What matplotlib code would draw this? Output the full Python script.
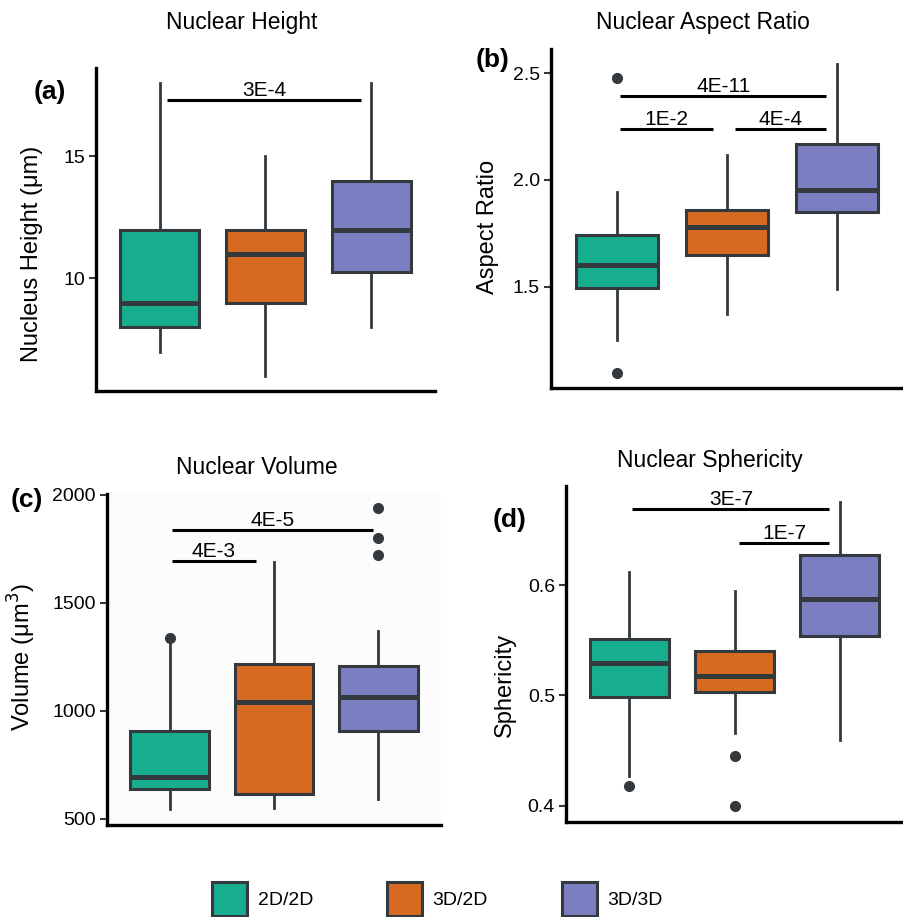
import matplotlib.pyplot as plt
from matplotlib.patches import Patch

plt.rcParams['font.family'] = ['Liberation Sans', 'DejaVu Sans']

groups = ['2D/2D', '3D/2D', '3D/3D']
colors = ['#17ad8f', '#d56a20', '#7b7fc2']
edge = '#33393c'

# box stats per panel: (whislo, q1, med, q3, whishi, fliers)
height_stats = [(7, 8, 9, 12, 18, []),
                (6, 9, 11, 12, 15, []),
                (8, 10.25, 12, 14, 18, [])]
aspect_stats = [(1.252, 1.492, 1.603, 1.74, 1.945, [1.097, 2.478]),
                (1.372, 1.65, 1.782, 1.86, 2.117, []),
                (1.488, 1.849, 1.953, 2.171, 2.542, [])]
volume_stats = [(545, 636, 692, 907, 1320, [1335]),
                (548, 614, 1042, 1216, 1690, []),
                (591, 907, 1062, 1208, 1370, [1722, 1801, 1937])]
spher_stats = [(0.4266, 0.4985, 0.5294, 0.5514, 0.612, [0.418]),
               (0.466, 0.503, 0.5179, 0.5405, 0.5952, [0.3994, 0.4447]),
               (0.4598, 0.5535, 0.5874, 0.6273, 0.6759, [])]

# significance brackets: (x0, x1, y, label)
height_sig = [(1.07, 2.9, 17.3, '3E-4')]
aspect_sig = [(1.03, 2.9, 2.396, '4E-11'), (1.03, 1.87, 2.238, '1E-2'),
              (2.07, 2.9, 2.238, '4E-4')]
volume_sig = [(1.02, 2.95, 1836, '4E-5'), (1.02, 1.83, 1693, '4E-3')]
spher_sig = [(1.03, 2.9, 0.6693, '3E-7'), (2.04, 2.9, 0.6387, '1E-7')]

W, H = 904, 917
fig = plt.figure(figsize=(W / 100, H / 100), dpi=100)


def ax_px(left, top, right, bottom):
    return fig.add_axes([left / W, 1 - bottom / H, (right - left) / W, (bottom - top) / H])


panels = [
    dict(box=(96, 68, 435, 391), stats=height_stats, sig=height_sig, ylim=(5.4, 18.6),
         ticks=[10, 15], fmt='{:g}', title='Nuclear Height', tpos=(242, 22),
         ylabel='Nucleus Height (μm)', ylpos=(32, 254), tag='(a)', tagpos=(50, 92)),
    dict(box=(551, 49, 903, 388), stats=aspect_stats, sig=aspect_sig, ylim=(1.025, 2.614),
         ticks=[1.5, 2.0, 2.5], fmt='{:.1f}', title='Nuclear Aspect Ratio', tpos=(703, 22),
         ylabel='Aspect Ratio', ylpos=(488, 227), tag='(b)', tagpos=(493, 60)),
    dict(box=(107, 494, 441, 825), stats=volume_stats, sig=volume_sig, ylim=(471, 2003),
         ticks=[500, 1000, 1500, 2000], fmt='{:g}', title='Nuclear Volume', tpos=(257, 468),
         ylabel='Volume (μm$^3$)', ylpos=(22, 657), tag='(c)', tagpos=(27, 500)),
    dict(box=(566, 486, 903, 822), stats=spher_stats, sig=spher_sig, ylim=(0.3852, 0.690),
         ticks=[0.4, 0.5, 0.6], fmt='{:.1f}', title='Nuclear Sphericity', tpos=(710, 461),
         ylabel='Sphericity', ylpos=(505, 685), tag='(d)', tagpos=(510, 520)),
]

for i, p in enumerate(panels):
    ax = ax_px(*p['box'])
    bxp_stats = []
    for s in p['stats']:
        bxp_stats.append(dict(whislo=s[0], q1=s[1], med=s[2], q3=s[3], whishi=s[4], fliers=s[5]))
    bp = ax.bxp(bxp_stats, positions=[1, 2, 3], widths=0.75, patch_artist=True,
                showcaps=False,
                boxprops=dict(edgecolor=edge, linewidth=2.2),
                medianprops=dict(color=edge, linewidth=3.6, solid_capstyle='butt'),
                whiskerprops=dict(color=edge, linewidth=2.0),
                flierprops=dict(marker='o', markerfacecolor=edge, markeredgecolor=edge,
                                markersize=7))
    for patch, c in zip(bp['boxes'], colors):
        patch.set_facecolor(c)
    for x0, x1, y, lab in p['sig']:
        ax.plot([x0, x1], [y, y], color='black', lw=2.2, solid_capstyle='butt')
        ax.text((x0 + x1) / 2, y, lab, ha='center', va='bottom', fontsize=15)
    ax.set_xlim(0.4, 3.6)
    ax.set_ylim(*p['ylim'])
    ax.set_yticks(p['ticks'])
    ax.set_yticklabels([p['fmt'].format(t) for t in p['ticks']], fontsize=14)
    ax.set_xticks([])
    ax.tick_params(axis='y', length=5, width=1.5, color=edge, pad=3)
    for sp in ['top', 'right']:
        ax.spines[sp].set_visible(False)
    for sp in ['left', 'bottom']:
        ax.spines[sp].set_linewidth(2.4)
        ax.spines[sp].set_color('black')
    if i == 2:
        ax.set_facecolor('#fcfcfc')
    fig.text(p['tpos'][0] / W, 1 - p['tpos'][1] / H, p['title'], ha='center', va='center',
             fontsize=16.5)
    fig.text(p['ylpos'][0] / W, 1 - p['ylpos'][1] / H, p['ylabel'], ha='center', va='center',
             rotation=90, fontsize=17)
    fig.text(p['tagpos'][0] / W, 1 - p['tagpos'][1] / H, p['tag'], ha='center', va='center',
             fontsize=19, fontweight='bold')

handles = [Patch(facecolor=c, edgecolor=edge, linewidth=2.2) for c in colors]
fig.legend(handles, groups, loc='upper left', bbox_to_anchor=(212 / W, 1 - 882 / H),
           ncol=3, frameon=False, fontsize=14, handlelength=1.8, handleheight=2.3,
           handletextpad=0.55, columnspacing=3.8, borderpad=0, borderaxespad=0)

fig.savefig('out.png', dpi=100)
